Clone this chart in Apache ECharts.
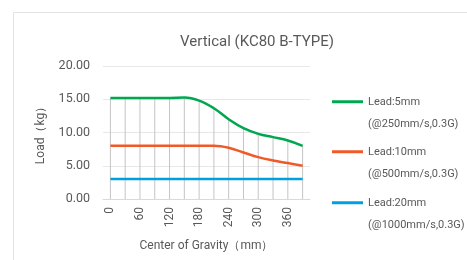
<!DOCTYPE html>
<html>
<head>
<meta charset="utf-8">
<script src="https://cdn.jsdelivr.net/npm/echarts@6/dist/echarts.min.js"></script>
<style>
  html, body { margin: 0; padding: 0; background: #fff; }
  #chart { width: 467px; height: 260px; }
</style>
</head>
<body>
<div id="chart"></div>
<script>
// center of gravity (mm)
var categories = ['0', '30', '60', '90', '120', '150', '180', '210', '240', '270', '300', '330', '360', '390'];
var lead5 = [15.2, 15.2, 15.2, 15.2, 15.2, 15.25, 14.8, 13.65, 12.0, 10.65, 9.8, 9.3, 8.8, 8.0];
var lead10 = [8.0, 8.0, 8.0, 8.0, 8.0, 8.0, 8.0, 8.0, 7.7, 7.0, 6.3, 5.8, 5.4, 5.0];
var lead20 = [3.0, 3.0, 3.0, 3.0, 3.0, 3.0, 3.0, 3.0, 3.0, 3.0, 3.0, 3.0, 3.0, 3.0];
var seriesNames = ['Lead:5mm', 'Lead:10mm', 'Lead:20mm'];
var seriesSubs = ['(@250mm/s,0.3G)', '(@500mm/s,0.3G)', '(@1000mm/s,0.3G)'];
var colors = ['#00a650', '#f05a28', '#00a0e0'];

var txt = '#595959';
var font = 'Roboto, "Noto Sans", sans-serif';
var chart = echarts.init(document.getElementById('chart'));

function legendFor(i, top) {
    return {
        data: [seriesNames[i]],
        left: 327,
        top: top,
        orient: 'vertical',
        icon: 'rect',
        itemWidth: 31,
        itemHeight: 3,
        selectedMode: false,
        textStyle: { color: txt, fontSize: 11, fontFamily: font, lineHeight: 22.5 },
        formatter: function (name) {
            return ' \n' + name + '\n' + seriesSubs[i];
        }
    };
}

chart.setOption({
    animation: false,
    textStyle: { fontFamily: font },
    title: {
        text: 'Vertical (KC80 B-TYPE)',
        left: 252,
        textAlign: 'center',
        top: 30,
        textStyle: { color: txt, fontSize: 15, fontWeight: 'normal', fontFamily: font }
    },
    graphic: [{
        type: 'rect',
        shape: { x: 13.5, y: 12.5, width: 470, height: 260 },
        style: { fill: 'none', stroke: '#e3e3e3', lineWidth: 1 },
        silent: true
    }],
    legend: [legendFor(0, 63), legendFor(1, 113), legendFor(2, 164)],
    grid: { left: 103, right: 157, top: 66, bottom: 61 },
    xAxis: {
        type: 'category',
        data: categories,
        boundaryGap: true,
        name: 'Center of Gravity（mm）',
        nameLocation: 'middle',
        nameGap: 41,
        nameTextStyle: { color: txt, fontSize: 12, fontFamily: font },
        axisLine: { lineStyle: { color: '#d9d9d9' } },
        axisTick: { show: false },
        axisLabel: { color: txt, fontSize: 12, rotate: 90, interval: 1, margin: 8 },
        splitLine: { show: false }
    },
    yAxis: {
        type: 'value',
        min: 0,
        max: 20,
        interval: 5,
        name: 'Load（kg）',
        nameLocation: 'middle',
        nameGap: 56,
        nameTextStyle: { color: txt, fontSize: 12, fontFamily: font },
        axisLine: { show: false },
        axisTick: { show: false },
        axisLabel: {
            color: txt, fontSize: 12.5, margin: 13,
            formatter: function (v) { return v.toFixed(2); }
        },
        splitLine: { lineStyle: { color: '#e8e8e8' } }
    },
    series: [
        {
            // drop lines from the top series down to the axis
            name: 'drop',
            type: 'bar',
            data: lead5,
            barWidth: 1,
            silent: true,
            itemStyle: { color: '#c4c4c4' },
            z: 1
        },
        {
            name: seriesNames[0], type: 'line', data: lead5, smooth: 0.4,
            showSymbol: false, lineStyle: { color: colors[0], width: 2.5 },
            itemStyle: { color: colors[0] }, z: 3
        },
        {
            name: seriesNames[1], type: 'line', data: lead10, smooth: 0.4,
            showSymbol: false, lineStyle: { color: colors[1], width: 2.5 },
            itemStyle: { color: colors[1] }, z: 3
        },
        {
            name: seriesNames[2], type: 'line', data: lead20, smooth: 0.4,
            showSymbol: false, lineStyle: { color: colors[2], width: 2.5 },
            itemStyle: { color: colors[2] }, z: 3
        }
    ]
});
</script>
</body>
</html>
